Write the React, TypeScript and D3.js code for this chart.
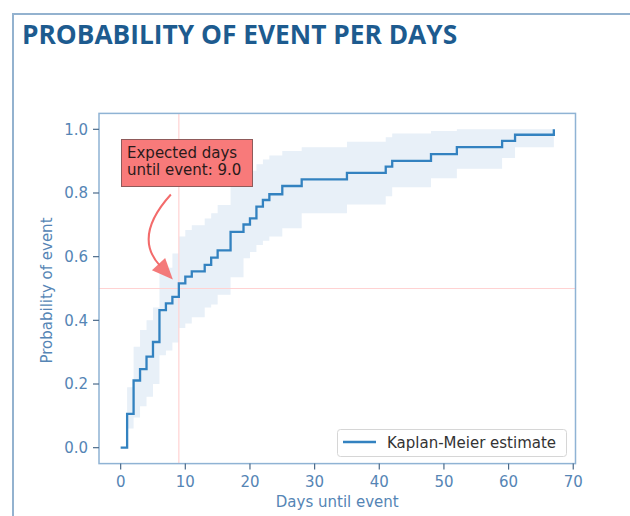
import React from "react";
import * as d3 from "d3";

// Kaplan-Meier cumulative density (probability of event) by day
const times = [0, 1, 2, 3, 4, 5, 6, 7, 8, 9, 10, 11, 13, 14, 15, 17, 19, 20, 21, 22, 23, 25, 28, 35, 41, 42, 48, 52, 59, 61, 67];
const estimate = [0, 0.106, 0.211, 0.247, 0.286, 0.332, 0.432, 0.453, 0.474, 0.516, 0.537, 0.554, 0.574, 0.597, 0.62, 0.678, 0.701, 0.72, 0.757, 0.778, 0.796, 0.822, 0.843, 0.863, 0.883, 0.901, 0.922, 0.944, 0.964, 0.983, 1.0];
const lowerCI = [0, 0.06, 0.095, 0.13, 0.16, 0.2, 0.29, 0.305, 0.33, 0.376, 0.39, 0.41, 0.44, 0.45, 0.48, 0.535, 0.595, 0.615, 0.637, 0.65, 0.663, 0.689, 0.736, 0.764, 0.79, 0.818, 0.846, 0.876, 0.91, 0.944, 0.944];
const upperCI = [0, 0.19, 0.317, 0.37, 0.4, 0.44, 0.55, 0.565, 0.61, 0.663, 0.684, 0.699, 0.72, 0.736, 0.762, 0.82, 0.85, 0.87, 0.89, 0.905, 0.918, 0.932, 0.944, 0.961, 0.975, 0.987, 0.995, 1.0, 1.0, 1.0, 1.0];

const xTicks = [0, 10, 20, 30, 40, 50, 60, 70];
const yTicks = [0, 0.2, 0.4, 0.6, 0.8, 1.0];

const expectedDays = 9.0;
const medianLevel = 0.5;

const title = "PROBABILITY OF EVENT PER DAYS";
const xLabel = "Days until event";
const yLabel = "Probability of event";
const legendLabel = "Kaplan-Meier estimate";
const noteLines = ["Expected days", `until event: ${expectedDays.toFixed(1)}`];

const W = 630;
const H = 516;
const plot = { left: 99, right: 575.5, top: 113.4, bottom: 463.6 };

const FONT = "'DejaVu Sans', sans-serif";
const LINE = "#3382c0";
const BAND = "#e8f0f8";
const TEXT_BLUE = "#5585b5";
const SPINE = "#8fb3d4";
const TICK = "#4b6a8a";

export default function App() {
  const x = d3.scaleLinear().domain([-3.35, 70.35]).range([plot.left, plot.right]);
  const y = d3.scaleLinear().domain([-0.05, 1.05]).range([plot.bottom, plot.top]);

  const rows = times.map((t, i) => ({ t, v: estimate[i], lo: lowerCI[i], hi: upperCI[i] }));

  const line = d3
    .line<any>()
    .x((d) => x(d.t))
    .y((d) => y(d.v))
    .curve(d3.curveStepAfter);

  const band = d3
    .area<any>()
    .x((d) => x(d.t))
    .y0((d) => y(d.lo))
    .y1((d) => y(d.hi))
    .curve(d3.curveStepAfter);

  // annotation arrow pointing at the expected-days crossing
  const px = x(expectedDays);
  const py = y(medianLevel);
  const start: [number, number] = [px - 8, py - 94];
  const end: [number, number] = [px - 6, py - 9];
  const ctrl: [number, number] = [px - 46, py - 52];
  const dx = end[0] - ctrl[0];
  const dy = end[1] - ctrl[1];
  const len = Math.hypot(dx, dy);
  const ux = dx / len;
  const uy = dy / len;
  const headLen = 21;
  const headHalf = 9;
  const base: [number, number] = [end[0] - ux * headLen, end[1] - uy * headLen];
  const c1: [number, number] = [base[0] - uy * headHalf, base[1] + ux * headHalf];
  const c2: [number, number] = [base[0] + uy * headHalf, base[1] - ux * headHalf];
  const shaftEnd: [number, number] = [end[0] - ux * (headLen - 2), end[1] - uy * (headLen - 2)];

  return (
    <svg
      width={W}
      height={H}
      style={{ position: "absolute", left: 0, top: 0, background: "#fff" }}
      fontFamily={FONT}
    >
      {/* card frame */}
      <path d={`M13,${H} V14 H${W}`} fill="none" stroke="#93b2cf" strokeWidth={2} />
      <text x={22} y={44} fontFamily="'Open Sans', sans-serif" fontWeight={700} fontSize={26.3} fill="#1d5b8f">
        {title}
      </text>

      {/* confidence band */}
      <path d={band(rows) || ""} fill={BAND} stroke="none" />

      {/* reference lines */}
      <line x1={px} x2={px} y1={plot.top} y2={plot.bottom} stroke="#ffd2d2" strokeWidth={1.2} />
      <line x1={plot.left} x2={plot.right} y1={py} y2={py} stroke="#ffd2d2" strokeWidth={1.2} />

      {/* estimate */}
      <path d={line(rows) || ""} fill="none" stroke={LINE} strokeWidth={2.3} />

      {/* spines */}
      <rect
        x={plot.left}
        y={plot.top}
        width={plot.right - plot.left}
        height={plot.bottom - plot.top}
        fill="none"
        stroke={SPINE}
        strokeWidth={1.5}
      />

      {/* x axis */}
      {xTicks.map((t) => (
        <g key={`x${t}`}>
          <line x1={x(t)} x2={x(t)} y1={plot.bottom} y2={plot.bottom + 6} stroke={TICK} strokeWidth={1.2} />
          <text x={x(t)} y={plot.bottom + 23} textAnchor="middle" fontSize={15} fill={TEXT_BLUE}>
            {t}
          </text>
        </g>
      ))}
      <text x={(plot.left + plot.right) / 2} y={507} textAnchor="middle" fontSize={15} fill={TEXT_BLUE}>
        {xLabel}
      </text>

      {/* y axis */}
      {yTicks.map((t) => (
        <g key={`y${t}`}>
          <line x1={plot.left - 6} x2={plot.left} y1={y(t)} y2={y(t)} stroke={TICK} strokeWidth={1.2} />
          <text x={plot.left - 11} y={y(t) + 5.3} textAnchor="end" fontSize={15} fill={TEXT_BLUE}>
            {t.toFixed(1)}
          </text>
        </g>
      ))}
      <text
        transform={`translate(52,${(plot.top + plot.bottom) / 2 + 2}) rotate(-90)`}
        textAnchor="middle"
        fontSize={15}
        fill={TEXT_BLUE}
      >
        {yLabel}
      </text>

      {/* annotation */}
      <rect x={121.5} y={139.5} width={131} height={47} fill="#f87a7a" stroke="#8f5a5a" strokeWidth={1} />
      {noteLines.map((s, i) => (
        <text key={s} x={127} y={158 + i * 17} fontSize={15} fill="#2a1a1a">
          {s}
        </text>
      ))}
      <path
        d={`M${start[0]},${start[1]} Q${ctrl[0]},${ctrl[1]} ${shaftEnd[0]},${shaftEnd[1]}`}
        fill="none"
        stroke="#f36b6b"
        strokeWidth={2}
      />
      <path d={`M${end[0]},${end[1]} L${c1[0]},${c1[1]} L${c2[0]},${c2[1]} Z`} fill="#f36b6b" opacity={0.9} />

      {/* legend */}
      <rect x={337.5} y={429.5} width={229} height={27} rx={3} fill="#fff" fillOpacity={0.85} stroke="#d6d6d6" />
      <line x1={343} x2={376} y1={442} y2={442} stroke={LINE} strokeWidth={2.3} />
      <text x={387} y={447.5} fontSize={15} fill="#333">
        {legendLabel}
      </text>
    </svg>
  );
}
